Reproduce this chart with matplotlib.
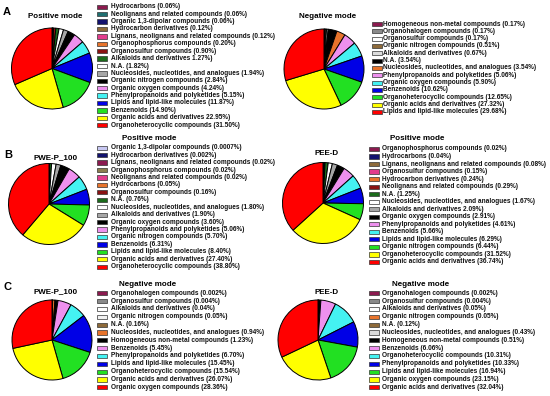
import matplotlib
matplotlib.use("Agg")
import matplotlib.pyplot as plt
from matplotlib.patches import Rectangle

plt.rcParams['font.family'] = ['Liberation Sans', 'DejaVu Sans']

W, H = 550, 396

# ---------------- colours ----------------
MAROON = '#8B1A4F'; TEAL = '#1F6F70'; NAVY = '#12126E'; BROWN = '#8E6A3A'
OLIVE = '#8C7E4E'; PINK = '#E23C8C'; ORANGE = '#E8742C'; DARKRED = '#8A1212'
DKGREEN = '#1B6B1B'; WHITE = '#FFFFFF'; GRAY = '#A6A6A6'; DKGRAY = '#8A8A8A'
LTGRAY = '#DCDCDC'; BLACK = '#000000'; VIOLET = '#EE90EE'; CYAN = '#44F2F2'
BLUE = '#0000E6'; GREEN = '#22E022'; YELLOW = '#FFFF00'; RED = '#FF0000'
LAVENDER = '#C8C8F2'; OFFWHITE = '#F2F2F2'

# ---------------- data ----------------
a_pos_labels = [
    "Hydrocarbons (0.06%)", "Neolignans and related compounds (0.06%)",
    "Organic 1,3-dipolar compounds (0.06%)", "Hydrocarbon derivatives (0.12%)",
    "Lignans, neolignans and related compounds (0.12%)", "Organophosphorus compounds (0.20%)",
    "Organosulfur compounds (0.90%)", "Alkaloids and derivatives 1.27%)", "N.A. (1.82%)",
    "Nucleosides, nucleotides, and analogues (1.94%)", "Organic nitrogen compounds (2.84%)",
    "Organic oxygen compounds (4.24%)", "Phenylpropanoids and polyketides (5.15%)",
    "Lipids and lipid-like molecules (11.87%)", "Benzenoids (14.90%)",
    "Organic acids and derivatives 22.95%)", "Organoheterocyclic compounds (31.50%)"]
a_pos_values = [0.06, 0.06, 0.06, 0.12, 0.12, 0.20, 0.90, 1.27, 1.82, 1.94, 2.84, 4.24,
                5.15, 11.87, 14.90, 22.95, 31.50]
a_pos_colors = [MAROON, TEAL, NAVY, BROWN, PINK, ORANGE, DARKRED, DKGREEN, WHITE, GRAY,
                BLACK, VIOLET, CYAN, BLUE, GREEN, YELLOW, RED]

a_neg_labels = [
    "Homogeneous non-metal compounds (0.17%)", "Organohalogen compounds (0.17%)",
    "Organosulfur compounds (0.17%)", "Organic nitrogen compounds (0.51%)",
    "Alkaloids and derivatives (0.67%)", "N.A. (3.54%)",
    "Nucleosides, nucleotides, and analogues (3.54%)", "Phenylpropanoids and polyketides (5.06%)",
    "Organic oxygen compounds (5.90%)", "Benzenoids (10.62%)",
    "Organoheterocyclic compounds (12.65%)", "Organic acids and derivatives (27.32%)",
    "Lipids and lipid-like molecules (29.68%)"]
a_neg_values = [0.17, 0.17, 0.17, 0.51, 0.67, 3.54, 3.54, 5.06, 5.90, 10.62, 12.65, 27.32, 29.68]
a_neg_colors = [MAROON, DKGRAY, WHITE, BROWN, LTGRAY, BLACK, ORANGE, VIOLET, CYAN, BLUE,
                GREEN, YELLOW, RED]

b_pwe_labels = [
    "Organic 1,3-dipolar compounds (0.0007%)", "Hydrocarbon derivatives (0.002%)",
    "Lignans, neolignans and related compounds (0.02%)", "Organophosphorus compounds (0.02%)",
    "Neolignans and related compounds (0.02%)", "Hydrocarbons (0.05%)",
    "Organosulfur compounds (0.16%)", "N.A. (0.76%)",
    "Nucleosides, nucleotides, and analogues (1.80%)", "Alkaloids and derivatives (1.90%)",
    "Organic oxygen compounds (3.60%)", "Phenylpropanoids and polyketides (5.06%)",
    "Organic nitrogen compounds (5.70%)", "Benzenoids (6.31%)",
    "Lipids and lipid-like molecules (8.40%)", "Organic acids and derivatives (27.40%)",
    "Organoheterocyclic compounds (38.80%)"]
b_pwe_values = [0.0007, 0.002, 0.02, 0.02, 0.02, 0.05, 0.16, 0.76, 1.80, 1.90, 3.60, 5.06,
                5.70, 6.31, 8.40, 27.40, 38.80]
b_pwe_colors = [LAVENDER, NAVY, MAROON, OLIVE, PINK, ORANGE, DARKRED, DKGREEN, WHITE, GRAY,
                BLACK, VIOLET, CYAN, BLUE, GREEN, YELLOW, RED]

b_pee_labels = [
    "Organophosphorus compounds (0.02%)", "Hydrocarbons (0.04%)",
    "Lignans, neolignans and related compounds (0.08%)", "Organosulfur compounds (0.15%)",
    "Hydrocarbon derivatives (0.24%)", "Neolignans and related compounds (0.29%)",
    "N.A. (1.25%)", "Nucleosides, nucleotides, and analogues (1.67%)",
    "Alkaloids and derivatives 2.09%)", "Organic oxygen compounds (2.91%)",
    "Phenylpropanoids and polyketides (4.61%)", "Benzenoids (5.66%)",
    "Lipids and lipid-like molecules (6.29%)", "Organic nitrogen compounds (6.44%)",
    "Organoheterocyclic compounds (31.52%)", "Organic acids and derivatives (36.74%)"]
b_pee_values = [0.02, 0.04, 0.08, 0.15, 0.24, 0.29, 1.25, 1.67, 2.09, 2.91, 4.61, 5.66,
                6.29, 6.44, 31.52, 36.74]
b_pee_colors = [MAROON, NAVY, BROWN, PINK, ORANGE, DARKRED, DKGREEN, WHITE, GRAY, BLACK,
                VIOLET, CYAN, BLUE, GREEN, YELLOW, RED]

c_pwe_labels = [
    "Organohalogen compounds (0.002%)", "Organosulfur compounds (0.004%)",
    "Alkaloids and derivatives (0.04%)", "Organic nitrogen compounds (0.05%)",
    "N.A. (0.16%)", "Nucleosides, nucleotides, and analogues (0.94%)",
    "Homogeneous non-metal compounds (1.23%)", "Benzenoids (5.45%)",
    "Phenylpropanoids and polyketides (6.70%)", "Lipids and lipid-like molecules (15.45%)",
    "Organoheterocyclic compounds (15.54%)", "Organic acids and derivatives (26.07%)",
    "Organic oxygen compounds (28.36%)"]
c_pwe_values = [0.002, 0.004, 0.04, 0.05, 0.16, 0.94, 1.23, 5.45, 6.70, 15.45, 15.54,
                26.07, 28.36]
c_pwe_colors = [MAROON, DKGRAY, WHITE, OFFWHITE, BROWN, ORANGE, BLACK, VIOLET, CYAN, BLUE,
                GREEN, YELLOW, RED]

c_pee_labels = [
    "Organohalogen compounds (0.002%)", "Organosulfur compounds (0.004%)",
    "Alkaloids and derivatives (0.05%)", "Organic nitrogen compounds (0.05%)",
    "N.A. (0.12%)", "Nucleosides, nucleotides, and analogues (0.43%)",
    "Homogeneous non-metal compounds (0.51%)", "Benzenoids (6.06%)",
    "Organoheterocyclic compounds (10.31%)", "Phenylpropanoids and polyketides (10.33%)",
    "Lipids and lipid-like molecules (16.94%)", "Organic oxygen compounds (23.15%)",
    "Organic acids and derivatives (32.04%)"]
c_pee_values = [0.002, 0.004, 0.05, 0.05, 0.12, 0.43, 0.51, 6.06, 10.31, 10.33, 16.94,
                23.15, 32.04]
c_pee_colors = [MAROON, DKGRAY, WHITE, ORANGE, BROWN, LTGRAY, BLACK, VIOLET, CYAN, BLUE,
                GREEN, YELLOW, RED]

fig = plt.figure(figsize=(W / 100, H / 100), dpi=100)
fig.patch.set_facecolor('white')


def fx(x):
    return x / W


def fy(y):
    return 1 - y / H


def draw_pie(values, colors, cx, cy, r):
    pad = 1.04
    rr = r * pad
    ax = fig.add_axes([fx(cx - rr), fy(cy + rr), 2 * rr / W, 2 * rr / H])
    ax.pie(values, colors=colors, startangle=90, counterclock=False, radius=1,
           wedgeprops=dict(edgecolor='black', linewidth=0.7))
    ax.set_xlim(-pad, pad)
    ax.set_ylim(-pad, pad)
    ax.set_aspect('equal')
    ax.axis('off')


def draw_legend(labels, colors, sx, tx, y0, dy, fs=4.7):
    for i, (lab, col) in enumerate(zip(labels, colors)):
        y = y0 + i * dy
        fig.add_artist(Rectangle((fx(sx), fy(y + 2.1)), 10 / W, 4.2 / H,
                                 transform=fig.transFigure, facecolor=col,
                                 edgecolor='#333333', linewidth=0.5))
        fig.text(fx(tx), fy(y), lab, fontsize=fs, fontweight='bold',
                 va='center', ha='left', color='#111111')


def title(x, y, s, fs=5.8):
    fig.text(fx(x), fy(y), s, fontsize=fs, fontweight='bold', ha='center', va='center')


# Panel letters
fig.text(fx(7), fy(12), 'A', fontsize=8, fontweight='bold', ha='center', va='center')
fig.text(fx(8), fy(154.5), 'B', fontsize=8, fontweight='bold', ha='center', va='center')
fig.text(fx(8), fy(287.5), 'C', fontsize=8, fontweight='bold', ha='center', va='center')

# A
title(55, 16, 'Positive mode')
draw_pie(a_pos_values, a_pos_colors, 52, 68.5, 40.5)
draw_legend(a_pos_labels, a_pos_colors, 97, 111, 6.8, 7.4)

title(328, 17, 'Negative mode')
draw_pie(a_neg_values, a_neg_colors, 324, 69, 40)
draw_legend(a_neg_labels, a_neg_colors, 372, 383, 24, 7.33)

# B
title(56, 158, 'PWE-P_100')
title(149, 138, 'Positive mode')
draw_pie(b_pwe_values, b_pwe_colors, 49, 204, 40.5)
draw_legend(b_pwe_labels, b_pwe_colors, 97, 111, 147.7, 7.44)

title(327, 154, 'PEE-D')
title(417, 139, 'Positive mode')
draw_pie(b_pee_values, b_pee_colors, 323, 203, 40.5)
draw_legend(b_pee_labels, b_pee_colors, 369, 382, 149, 7.53)

# C
title(56, 292, 'PWE-P_100')
title(148, 284, 'Negative mode')
draw_pie(c_pwe_values, c_pwe_colors, 52, 340, 40)
draw_legend(c_pwe_labels, c_pwe_colors, 97, 111, 293.3, 7.83)

title(327, 292, 'PEE-D')
title(421, 284, 'Negative mode')
draw_pie(c_pee_values, c_pee_colors, 318, 340, 40)
draw_legend(c_pee_labels, c_pee_colors, 369, 382, 293.3, 7.83)

fig.savefig('out.png', dpi=100)
